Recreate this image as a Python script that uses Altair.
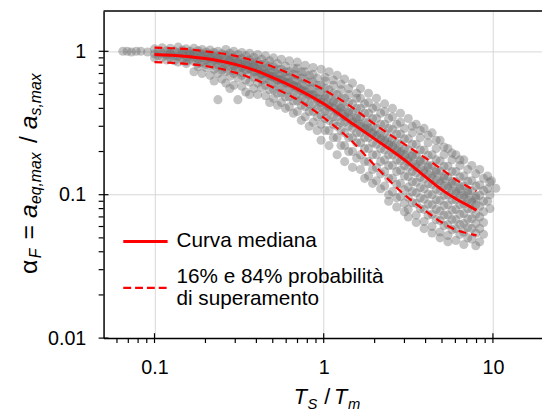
import altair as alt
import pandas as pd

FONT = "Liberation Sans"

# ---- curves (median and 16% / 84% bands) ----
curve_ts = [0.1, 0.15, 0.2, 0.3, 0.4, 0.5, 0.7, 1.0, 1.5, 2.0, 3.0, 4.0, 5.0, 6.0, 7.0, 8.0]
median_vals = [0.95, 0.925, 0.89, 0.81, 0.73, 0.655, 0.545, 0.43, 0.31, 0.245, 0.175, 0.133, 0.108, 0.094, 0.085, 0.078]
p84_vals = [1.06, 1.04, 1.0, 0.93, 0.85, 0.78, 0.66, 0.54, 0.40, 0.31, 0.225, 0.18, 0.15, 0.128, 0.115, 0.106]
p16_vals = [0.84, 0.82, 0.79, 0.71, 0.63, 0.56, 0.46, 0.345, 0.23, 0.16, 0.10, 0.077, 0.064, 0.057, 0.054, 0.052]

# ---- scatter cloud, organised by T_S/T_m columns ----
# even-indexed values of each column sit at scatter_ts, odd-indexed ones at scatter_ts_b
scatter_ts = [0.1, 0.111, 0.124, 0.138, 0.154, 0.171, 0.191, 0.213, 0.237, 0.264, 0.294, 0.328, 0.365,
              0.407, 0.453, 0.505, 0.562, 0.626, 0.698, 0.777, 0.866, 0.965, 1.075, 1.2, 1.33, 1.48,
              1.65, 1.84, 2.05, 2.29, 2.55, 2.84, 3.16, 3.52, 3.92, 4.37, 4.87, 5.42, 6.04, 6.73,
              7.5, 8.35, 9.3]
scatter_ts_b = [0.105, 0.118, 0.131, 0.146, 0.162, 0.181, 0.202, 0.225, 0.25, 0.279, 0.311, 0.346, 0.386,
                0.43, 0.479, 0.533, 0.594, 0.662, 0.737, 0.821, 0.915, 1.02, 1.14, 1.265, 1.405, 1.565,
                1.745, 1.945, 2.17, 2.42, 2.7, 3.0, 3.34, 3.72, 4.14, 4.62, 5.14, 5.73, 6.38, 7.1,
                7.92, 8.8, 9.6]
scatter_alpha = [
    [1.04, 0.99, 0.96, 0.93, 0.9],
    [1.06, 1.01, 0.97, 0.94, 0.91, 0.87],
    [1.05, 1.0, 0.96, 0.93, 0.9, 0.86, 0.98],
    [1.07, 1.02, 0.98, 0.95, 0.92, 0.88, 0.84, 0.97],
    [1.04, 1.0, 0.97, 0.94, 0.91, 0.88, 0.85, 0.96, 0.82],
    [1.05, 1.01, 0.97, 0.94, 0.91, 0.88, 0.85, 0.82, 0.95, 0.78, 0.72],
    [1.03, 0.99, 0.96, 0.93, 0.9, 0.87, 0.84, 0.81, 0.94, 0.77, 0.7],
    [1.02, 0.98, 0.95, 0.92, 0.89, 0.86, 0.83, 0.8, 0.91, 0.75, 0.68, 0.62],
    [1.0, 0.96, 0.93, 0.9, 0.87, 0.84, 0.81, 0.78, 0.89, 0.74, 0.7, 0.64, 0.46],
    [1.03, 0.97, 0.94, 0.91, 0.88, 0.85, 0.82, 0.79, 0.76, 0.87, 0.72, 0.67, 0.6, 0.55],
    [1.0, 0.95, 0.91, 0.88, 0.85, 0.82, 0.79, 0.76, 0.73, 0.84, 0.7, 0.65, 0.58, 0.46, 0.8],
    [0.98, 0.93, 0.89, 0.86, 0.83, 0.8, 0.77, 0.74, 0.71, 0.82, 0.68, 0.63, 0.57, 0.52, 0.78],
    [0.97, 0.91, 0.87, 0.84, 0.81, 0.78, 0.75, 0.72, 0.69, 0.8, 0.76, 0.66, 0.61, 0.55, 0.5],
    [0.95, 0.88, 0.84, 0.81, 0.78, 0.75, 0.72, 0.69, 0.66, 0.63, 0.74, 0.7, 0.6, 0.56, 0.5],
    [0.93, 0.86, 0.82, 0.79, 0.76, 0.73, 0.7, 0.67, 0.64, 0.61, 0.71, 0.68, 0.58, 0.54, 0.49, 0.44],
    [0.9, 0.82, 0.78, 0.75, 0.72, 0.69, 0.66, 0.63, 0.6, 0.57, 0.67, 0.64, 0.54, 0.51, 0.47, 0.42],
    [0.88, 0.79, 0.75, 0.72, 0.69, 0.66, 0.63, 0.6, 0.57, 0.54, 0.64, 0.61, 0.51, 0.48, 0.44, 0.4],
    [0.86, 0.76, 0.72, 0.69, 0.66, 0.63, 0.6, 0.57, 0.54, 0.51, 0.61, 0.58, 0.48, 0.45, 0.41, 0.37],
    [0.84, 0.72, 0.68, 0.65, 0.62, 0.59, 0.56, 0.53, 0.5, 0.47, 0.57, 0.54, 0.45, 0.42, 0.38, 0.33, 0.76],
    [0.8, 0.68, 0.64, 0.61, 0.58, 0.55, 0.52, 0.49, 0.46, 0.43, 0.53, 0.5, 0.41, 0.38, 0.35, 0.3, 0.72],
    [0.77, 0.65, 0.61, 0.58, 0.55, 0.52, 0.49, 0.46, 0.43, 0.4, 0.5, 0.47, 0.38, 0.35, 0.32, 0.28, 0.69],
    [0.75, 0.62, 0.58, 0.55, 0.52, 0.49, 0.46, 0.43, 0.41, 0.38, 0.36, 0.47, 0.44, 0.34, 0.31, 0.28, 0.24, 0.66],
    [0.72, 0.58, 0.54, 0.51, 0.48, 0.45, 0.42, 0.4, 0.38, 0.35, 0.33, 0.44, 0.41, 0.31, 0.28, 0.25, 0.22, 0.63],
    [0.68, 0.54, 0.5, 0.47, 0.44, 0.41, 0.39, 0.37, 0.35, 0.32, 0.3, 0.4, 0.38, 0.28, 0.25, 0.22, 0.19, 0.59],
    [0.64, 0.5, 0.47, 0.44, 0.41, 0.38, 0.36, 0.34, 0.32, 0.3, 0.27, 0.37, 0.35, 0.25, 0.22, 0.2, 0.17, 0.55],
    [0.6, 0.47, 0.43, 0.4, 0.38, 0.35, 0.33, 0.31, 0.29, 0.27, 0.25, 0.34, 0.32, 0.23, 0.2, 0.18, 0.155, 0.51],
    [0.55, 0.43, 0.4, 0.37, 0.35, 0.32, 0.3, 0.285, 0.27, 0.25, 0.23, 0.21, 0.31, 0.29, 0.19, 0.17, 0.15, 0.13, 0.47],
    [0.51, 0.4, 0.37, 0.34, 0.32, 0.3, 0.28, 0.265, 0.25, 0.23, 0.21, 0.19, 0.29, 0.27, 0.17, 0.15, 0.135, 0.12, 0.44],
    [0.47, 0.37, 0.34, 0.31, 0.29, 0.27, 0.255, 0.24, 0.225, 0.21, 0.19, 0.17, 0.26, 0.245, 0.155, 0.14, 0.125, 0.11, 0.41],
    [0.43, 0.34, 0.31, 0.29, 0.27, 0.25, 0.235, 0.22, 0.205, 0.19, 0.175, 0.16, 0.24, 0.225, 0.145, 0.13, 0.115, 0.1, 0.38, 0.09],
    [0.4, 0.31, 0.285, 0.265, 0.245, 0.23, 0.215, 0.2, 0.19, 0.175, 0.16, 0.145, 0.22, 0.205, 0.13, 0.118, 0.105, 0.095, 0.35, 0.082],
    [0.37, 0.29, 0.265, 0.245, 0.225, 0.21, 0.195, 0.183, 0.172, 0.16, 0.148, 0.135, 0.2, 0.19, 0.12, 0.108, 0.097, 0.087, 0.32, 0.076],
    [0.34, 0.27, 0.245, 0.225, 0.205, 0.19, 0.178, 0.166, 0.155, 0.145, 0.134, 0.123, 0.113, 0.185, 0.17, 0.105, 0.096, 0.088, 0.079, 0.3, 0.07],
    [0.31, 0.25, 0.225, 0.205, 0.19, 0.175, 0.163, 0.152, 0.142, 0.132, 0.122, 0.112, 0.103, 0.17, 0.156, 0.095, 0.087, 0.08, 0.072, 0.28, 0.064],
    [0.29, 0.23, 0.205, 0.188, 0.173, 0.16, 0.148, 0.138, 0.128, 0.119, 0.11, 0.101, 0.093, 0.155, 0.142, 0.086, 0.079, 0.072, 0.065, 0.26, 0.058],
    [0.27, 0.21, 0.19, 0.175, 0.16, 0.148, 0.137, 0.127, 0.118, 0.109, 0.1, 0.092, 0.085, 0.143, 0.131, 0.079, 0.073, 0.067, 0.06, 0.24, 0.054],
    [0.24, 0.19, 0.172, 0.158, 0.146, 0.135, 0.125, 0.116, 0.107, 0.099, 0.091, 0.084, 0.077, 0.13, 0.12, 0.072, 0.066, 0.061, 0.055, 0.215, 0.05],
    [0.21, 0.175, 0.158, 0.145, 0.134, 0.124, 0.115, 0.107, 0.099, 0.092, 0.085, 0.078, 0.072, 0.12, 0.111, 0.067, 0.062, 0.057, 0.052, 0.195, 0.047],
    [0.19, 0.16, 0.145, 0.133, 0.123, 0.114, 0.106, 0.099, 0.092, 0.085, 0.079, 0.073, 0.067, 0.11, 0.102, 0.062, 0.058, 0.053, 0.048, 0.175],
    [0.175, 0.15, 0.135, 0.124, 0.115, 0.107, 0.099, 0.092, 0.086, 0.08, 0.074, 0.068, 0.063, 0.103, 0.095, 0.059, 0.055, 0.05, 0.045],
    [0.16, 0.14, 0.125, 0.115, 0.106, 0.098, 0.091, 0.085, 0.079, 0.073, 0.068, 0.063, 0.058, 0.094, 0.088, 0.054, 0.049, 0.044],
    [0.15, 0.13, 0.117, 0.107, 0.099, 0.09, 0.083, 0.076, 0.07, 0.064, 0.058, 0.053, 0.047],
    [0.135, 0.122, 0.11, 0.1, 0.09, 0.08],
]
extra_ts = [0.065, 0.069, 0.073, 0.078, 0.083, 0.091, 9.8, 10.4]
extra_alpha = [1.0, 1.0, 0.99, 1.0, 1.0, 0.99, 0.125, 0.111]

# ---- axis ticks ----
x_major = [0.1, 1, 10]
y_major = [0.01, 0.1, 1]
x_minor = [0.06, 0.07, 0.08, 0.09, 0.2, 0.3, 0.4, 0.5, 0.6, 0.7, 0.8, 0.9,
           2, 3, 4, 5, 6, 7, 8, 9]
y_minor = [0.02, 0.03, 0.04, 0.05, 0.06, 0.07, 0.08, 0.09,
           0.2, 0.3, 0.4, 0.5, 0.6, 0.7, 0.8, 0.9]

# ---- build tables ----
rows = []
for ta, tb, ys in zip(scatter_ts, scatter_ts_b, scatter_alpha):
    for i, y in enumerate(ys):
        rows.append({"ts": ta if i % 2 == 0 else tb, "alpha": y})
for t, y in zip(extra_ts, extra_alpha):
    rows.append({"ts": t, "alpha": y})
pts = pd.DataFrame(rows)
curves = pd.DataFrame({"ts": curve_ts, "med": median_vals, "hi": p84_vals, "lo": p16_vals})

W, H = 445, 332
xs = alt.Scale(type="log", domain=[0.05, 19.5], nice=False)
ys = alt.Scale(type="log", domain=[0.01, 1.91], nice=False)

axis_common = dict(grid=True, gridColor="#d6d6d6", gridWidth=1, ticks=False,
                   domainColor="black", domainWidth=1.5, labelFont=FONT,
                   labelFontSize=20, labelColor="black", title=None,
                   labelExpr="datum.value >= 1 ? format(datum.value, 'd') : (datum.value >= 0.1 ? '0.1' : '0.01')")
x_axis = alt.Axis(values=x_major, labelPadding=20, **axis_common)
y_axis = alt.Axis(values=y_major, labelPadding=18, **axis_common)


def X(field):
    return alt.X(field, type="quantitative", scale=xs, axis=x_axis, title=None)


def Y(field):
    return alt.Y(field, type="quantitative", scale=ys, axis=y_axis, title=None)


points = alt.Chart(pts).mark_circle(size=85, color="#707070", opacity=0.42).encode(
    x=X("ts"), y=Y("alpha"))

base_c = alt.Chart(curves)
med_line = base_c.mark_line(color="#ff0000", strokeWidth=3, interpolate="monotone").encode(
    x=X("ts"), y=Y("med"))
hi_line = base_c.mark_line(color="#ff0000", strokeWidth=2.2, strokeDash=[8, 5], interpolate="monotone").encode(
    x=X("ts"), y=Y("hi"))
lo_line = base_c.mark_line(color="#ff0000", strokeWidth=2.2, strokeDash=[8, 5], interpolate="monotone").encode(
    x=X("ts"), y=Y("lo"))

# ticks drawn as rules through the scales
xmaj = alt.Chart(pd.DataFrame({"v": x_major})).mark_rule(color="black", strokeWidth=1.2).encode(
    x=X("v"), y=alt.value(H - 5), y2=alt.value(H + 5))
xmin = alt.Chart(pd.DataFrame({"v": x_minor})).mark_rule(color="black", strokeWidth=1.2).encode(
    x=X("v"), y=alt.value(H), y2=alt.value(H + 5))
ymaj = alt.Chart(pd.DataFrame({"v": y_major})).mark_rule(color="black", strokeWidth=1.2).encode(
    y=Y("v"), x=alt.value(-5), x2=alt.value(5))
ymin = alt.Chart(pd.DataFrame({"v": y_minor})).mark_rule(color="black", strokeWidth=1.2).encode(
    y=Y("v"), x=alt.value(-5), x2=alt.value(0))

dummy = pd.DataFrame({"d": [0]})
top_border = alt.Chart(dummy).mark_rule(color="black", strokeWidth=1.5).encode(
    x=alt.value(0), x2=alt.value(W), y=alt.value(0))

# legend
leg_solid = alt.Chart(dummy).mark_rule(color="#ff0000", strokeWidth=3).encode(
    x=alt.value(20), x2=alt.value(65), y=alt.value(234))
leg_dash = alt.Chart(dummy).mark_rule(color="#ff0000", strokeWidth=2.2, strokeDash=[8, 4]).encode(
    x=alt.value(20), x2=alt.value(65), y=alt.value(281))


def txt(s, x, y, size, italic=False, angle=0, baseline="alphabetic"):
    kw = dict(text=s, font=FONT, fontSize=size, color="black", align="left", baseline=baseline)
    if italic:
        kw["fontStyle"] = "italic"
    if angle:
        kw["angle"] = angle
    return alt.Chart(dummy).mark_text(**kw).encode(x=alt.value(x), y=alt.value(y))


legend_texts = [
    txt("Curva mediana", 74, 234, 21, baseline="middle"),
    txt("16% e 84% probabilità", 74, 270, 21, baseline="middle"),
    txt("di superamento", 74, 292, 21, baseline="middle"),
]

# x title: T_S / T_m
x_title = [
    txt("T", 193, 399, 22, italic=True),
    txt("S", 207, 404, 15, italic=True),
    txt("/", 224, 399, 22),
    txt("T", 234, 399, 22, italic=True),
    txt("m", 248, 404, 15, italic=True),
]

# y title: alpha_F = a_eq,max / a_s,max (rotated)
y_title = [
    txt("α", -68, 267, 25, angle=270),
    txt("F", -63, 251, 16, italic=True, angle=270),
    txt("=", -68, 232, 25, angle=270),
    txt("a", -68, 210, 25, italic=True, angle=270),
    txt("eq,max", -63, 196, 16, italic=True, angle=270),
    txt("/", -68, 134, 25, angle=270),
    txt("a", -68, 120, 25, italic=True, angle=270),
    txt("s,max", -63, 106, 16, italic=True, angle=270),
]

chart = alt.layer(
    points, lo_line, hi_line, med_line, xmaj, xmin, ymaj, ymin, top_border,
    leg_solid, leg_dash, *legend_texts, *x_title, *y_title,
).properties(
    width=W, height=H,
    autosize=alt.AutoSizeParams(type="none"),
    padding={"left": 97, "top": 0, "right": 0, "bottom": 75},
).configure_view(stroke=None)

chart.save("out.html", embed_options={"renderer": "svg", "actions": False})
